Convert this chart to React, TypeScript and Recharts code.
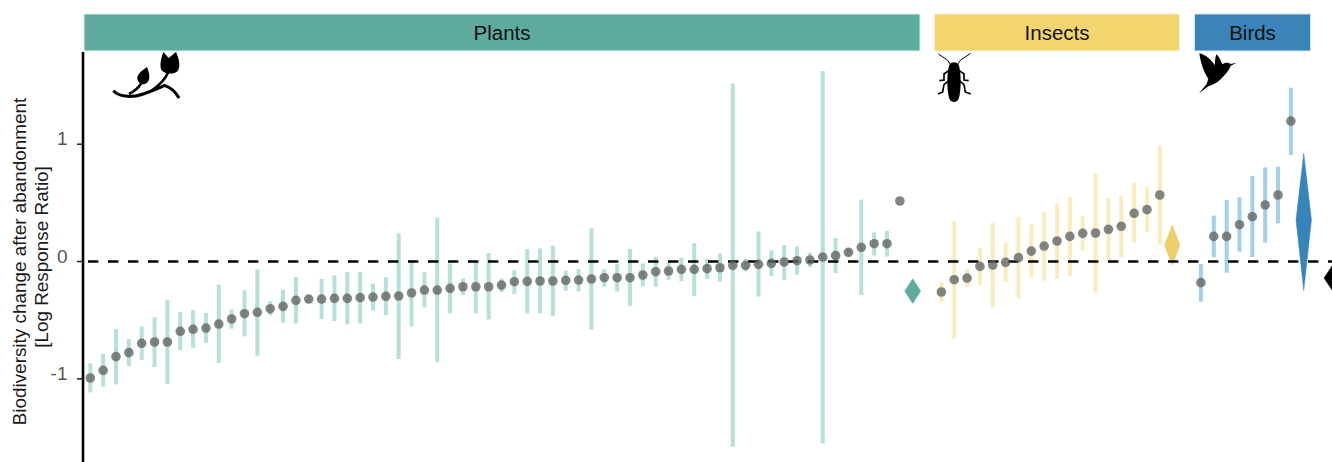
import React from 'react';
import {
  ComposedChart, Scatter, ErrorBar, XAxis, YAxis, ReferenceLine, ReferenceArea, Area,
} from 'recharts';

// ---- data (log response ratio) ----
const plantMeans = [-0.993,-0.928,-0.811,-0.777,-0.697,-0.686,-0.686,-0.595,-0.578,-0.567,-0.533,-0.49,-0.445,-0.433,-0.402,-0.382,-0.331,-0.32,-0.32,-0.314,-0.314,-0.308,-0.303,-0.297,-0.294,-0.268,-0.243,-0.243,-0.229,-0.215,-0.215,-0.215,-0.201,-0.172,-0.169,-0.166,-0.166,-0.161,-0.158,-0.149,-0.138,-0.138,-0.138,-0.115,-0.087,-0.081,-0.067,-0.067,-0.061,-0.053,-0.033,-0.033,-0.024,-0.016,-0.004,0.007,0.013,0.038,0.05,0.078,0.121,0.152,0.152,0.516];
const plantHighs = [-0.868,-0.788,-0.575,-0.661,-0.553,-0.476,-0.328,-0.43,-0.416,-0.439,-0.197,-0.411,-0.246,-0.067,-0.339,-0.243,-0.132,-0.294,-0.149,-0.118,-0.089,-0.087,-0.189,-0.135,0.24,0.013,-0.092,0.376,-0.016,-0.144,0.001,0.073,-0.144,-0.075,0.107,0.112,0.135,-0.078,-0.064,0.283,-0.067,-0.021,0.107,-0.016,0.041,-0.01,0.03,0.158,0.021,0.067,1.518,0.021,0.257,0.095,0.141,0.127,0.075,1.623,0.201,0.11,0.528,0.249,0.26,0.516];
const plantLows = [-1.115,-1.067,-1.047,-0.891,-0.839,-0.899,-1.044,-0.754,-0.737,-0.692,-0.865,-0.572,-0.638,-0.803,-0.459,-0.521,-0.527,-0.351,-0.49,-0.507,-0.536,-0.527,-0.416,-0.456,-0.831,-0.553,-0.391,-0.859,-0.442,-0.286,-0.442,-0.494,-0.26,-0.275,-0.442,-0.442,-0.465,-0.249,-0.255,-0.582,-0.215,-0.255,-0.377,-0.212,-0.215,-0.155,-0.169,-0.294,-0.147,-0.172,-1.58,-0.084,-0.3,-0.124,-0.155,-0.112,-0.047,-1.549,-0.098,0.047,-0.286,0.05,0.041,0.516];

const insectMeans = [-0.26,-0.155,-0.141,-0.041,-0.03,-0.007,0.033,0.089,0.132,0.175,0.214,0.24,0.243,0.274,0.3,0.411,0.442,0.567];
const insectHighs = [-0.178,0.348,-0.067,0.115,0.331,0.161,0.382,0.317,0.425,0.496,0.55,0.385,0.751,0.541,0.561,0.669,0.635,0.99];
const insectLows = [-0.342,-0.655,-0.22,-0.2,-0.391,-0.175,-0.314,-0.135,-0.163,-0.149,-0.121,0.095,-0.263,0.01,0.036,0.161,0.249,0.143];

const birdMeans = [-0.18,0.214,0.214,0.314,0.382,0.482,0.567,1.197];
const birdHighs = [-0.021,0.391,0.524,0.547,0.729,0.803,0.808,1.482];
const birdLows = [-0.342,0.036,-0.095,0.084,0.038,0.161,0.325,0.908];

const groupNames = ['Plants', 'Insects', 'Birds'];
const groupStarts = [0, 66.23, 86.43];
const groupBandStart = [-0.49, 65.7, 85.93];
const groupBandEnd = [64.57, 84.76, 94.96];
const groupColors = ['#5fab9f', '#f2d56f', '#3a84b8'];
const groupEdges = ['#dff0ec', '#fbf1cf', '#cfe6f3'];
const barColors = ['#b6e0da', '#fbecbd', '#a2d0e9'];

const summaryPositions = [64, 84.2, 94.43, 97.1];
const summaryMeans = [-0.252, 0.141, 0.354, -0.141];
const summaryLows = [-0.357, -0.033, -0.246, -0.32];
const summaryHighs = [-0.147, 0.311, 0.922, 0.04];
const summaryHalfWidths = [0.62, 0.6, 0.6, 1.09];
const summaryColors = ['#5fab9f', '#eecf6c', '#3684b8', '#000000'];

const yTicks = [-1, 0, 1];

const toRows = (means: number[], highs: number[], lows: number[], start: number) =>
  means.map((y, i) => ({ x: start + i, y, err: [y - lows[i], highs[i] - y] }));

const groups = [
  toRows(plantMeans, plantHighs, plantLows, groupStarts[0]),
  toRows(insectMeans, insectHighs, insectLows, groupStarts[1]),
  toRows(birdMeans, birdHighs, birdLows, groupStarts[2]),
];

const diamonds = summaryPositions.map((p, i) => [
  { x: p - summaryHalfWidths[i], r: [summaryMeans[i], summaryMeans[i]] },
  { x: p, r: [summaryLows[i], summaryHighs[i]] },
  { x: p + summaryHalfWidths[i], r: [summaryMeans[i], summaryMeans[i]] },
]);

const zeroSegment = [{ x: -0.56, y: 0 }, { x: 96.6, y: 0 }];

const FONT = '"Liberation Sans", Arial, sans-serif';

const Dot = (p: any) => (
  <circle cx={p.cx} cy={p.cy} r={4.8} fill="#5f6362" fillOpacity={0.78} />
);
const NoDot = () => <g />;

const YTick = (p: any) => (
  <text x={67.5} y={p.y + 1} textAnchor="end" fontFamily={FONT} fontSize={19} fill="#555555">
    {p.payload.value}
  </text>
);

const YTitle = () => (
  <g fontFamily={FONT} fontSize={18.9} fill="#1a1a1a" textAnchor="middle">
    <text transform="translate(26,261.5) rotate(-90)">Biodiversity change after abandonment</text>
    <text transform="translate(48,257) rotate(-90)">[Log Response Ratio]</text>
  </g>
);

const Icons = () => (
  <svg width={1332} height={462} style={{ position: 'absolute', left: 0, top: 0, pointerEvents: 'none' }}>
    <g transform="translate(105,48) scale(0.3333)">
      <path d="M25 128 C40 144 75 152 115 138 C145 127 165 119 178 112 C198 118 212 132 222 150" fill="none" stroke="#000" strokeWidth="9" />
      <path d="M72 138 C88 130 100 122 110 104 M140 128 C160 114 178 100 190 72" fill="none" stroke="#000" strokeWidth="8" />
      <path d="M126 57 C134 78 138 96 124 106 C110 115 95 102 97 88 C99 76 112 67 126 57 Z" fill="#000" />
      <path d="M175 12 L191 30 L213 12 C222 32 227 52 219 68 C208 80 180 80 169 66 C163 50 169 30 175 12 Z" fill="#000" />
    </g>
    <g transform="translate(930,48) scale(0.3333)">
      <path d="M58 50 C66 40 78 40 86 50 C94 72 94 130 86 152 C80 165 64 165 58 152 C50 130 50 72 58 50 Z" fill="#000" />
      <path d="M62 50 L52 36 L25 18 M82 50 L92 36 L122 16" fill="none" stroke="#000" strokeWidth="3" />
      <path d="M56 68 L42 78 L42 96 L28 98 M56 98 L42 110 L38 132 L24 138 M88 68 L102 78 L102 96 L116 98 M88 98 L102 110 L106 132 L122 138" fill="none" stroke="#000" strokeWidth="5" />
    </g>
    <g transform="translate(1190,48) scale(0.3333)">
      <path d="M27 136 L50 108 L55 92 C42 74 32 46 28 16 C44 20 62 32 74 52 C75 38 76 28 79 19 C87 26 93 38 97 49 C103 43 115 42 122 48 L139 44 L122 54 C118 66 106 80 92 94 C80 106 66 112 56 114 Z" fill="#000" />
    </g>
  </svg>
);

export default function App() {
  return (
    <div style={{ position: 'absolute', left: 0, top: 0, width: 1332, height: 462, overflow: 'hidden', background: '#fff' }}>
      <ComposedChart width={1332} height={462} margin={{ top: 52, right: 0, bottom: 0, left: 0 }}>
        <XAxis type="number" dataKey="x" hide domain={[-0.568, 96.63]} allowDataOverflow />
        <YAxis
          type="number"
          dataKey="y"
          width={83}
          domain={[-1.709, 1.786]}
          allowDataOverflow
          ticks={yTicks}
          tick={YTick}
          tickLine={{ stroke: '#222', strokeWidth: 1.5 }}
          tickSize={6}
          axisLine={{ stroke: '#000', strokeWidth: 2.6 }}
          label={YTitle}
        />
        {groupNames.map((name, i) => (
          <ReferenceArea
            key={name}
            x1={groupBandStart[i]}
            x2={groupBandEnd[i]}
            y1={1.795}
            y2={2.11}
            ifOverflow="visible"
            fill={groupColors[i]}
            fillOpacity={1}
            stroke={groupEdges[i]}
            strokeWidth={1}
            label={{ value: name, position: 'center', fill: '#111', fontSize: 20.5, fontFamily: FONT }}
          />
        ))}
        {groups.map((rows, i) => (
          <Scatter key={'bars' + i} data={rows} dataKey="y" shape={NoDot} isAnimationActive={false}>
            <ErrorBar dataKey="err" direction="y" width={0} stroke={barColors[i]} strokeWidth={4} isAnimationActive={false} />
          </Scatter>
        ))}
        <ReferenceLine y={0} stroke="#000" strokeWidth={2.6} strokeDasharray="10.4 9.6" strokeDashoffset={-5} ifOverflow="visible" segment={zeroSegment} />
        {diamonds.map((d, i) => (
          <Area
            key={'diamond' + i}
            data={d}
            dataKey="r"
            type="linear"
            fill={summaryColors[i]}
            fillOpacity={1}
            stroke={summaryColors[i]}
            strokeWidth={0.5}
            dot={false}
            activeDot={false}
            isAnimationActive={false}
          />
        ))}
        {groups.map((rows, i) => (
          <Scatter key={'points' + i} data={rows} dataKey="y" shape={Dot} isAnimationActive={false} />
        ))}
      </ComposedChart>
      <Icons />
    </div>
  );
}
